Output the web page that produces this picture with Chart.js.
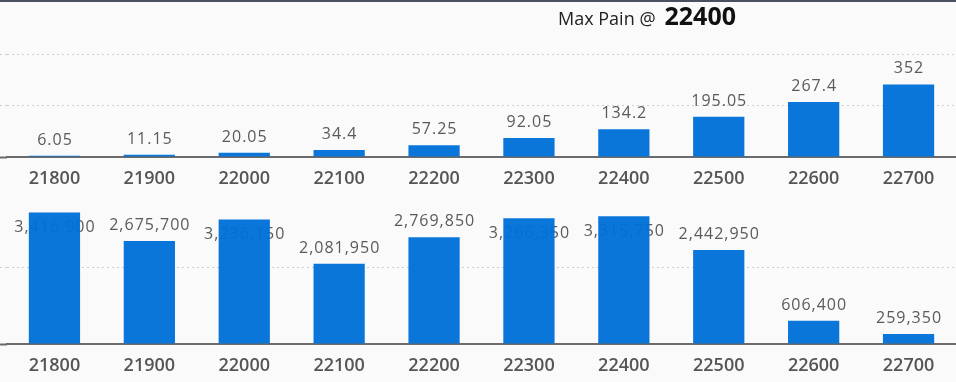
<!DOCTYPE html>
<html>
<head>
<meta charset="utf-8">
<script src="https://cdn.jsdelivr.net/npm/chart.js@4.4.1/dist/chart.umd.min.js"></script>
<style>
  html, body { margin: 0; padding: 0; background: #fafafa; }
  #wrap { position: relative; width: 956px; height: 382px; overflow: hidden; }
  #topLine { position: absolute; left: 0; top: 0; width: 956px; height: 2px; background: #48525f; z-index: 2; }
  #premium { position: absolute; left: 0; top: 0; }
  #pain { position: absolute; left: 0; top: 190px; }
</style>
</head>
<body>
<div id="wrap">
  <div id="topLine"></div>
  <canvas id="premium" width="956" height="190"></canvas>
  <canvas id="pain" width="956" height="192"></canvas>
</div>
<script>
const strikes = ['21800', '21900', '22000', '22100', '22200', '22300', '22400', '22500', '22600', '22700'];
const premiumValues = [6.05, 11.15, 20.05, 34.4, 57.25, 92.05, 134.2, 195.05, 267.4, 352];
const painValues = [3416900, 2675700, 3236150, 2081950, 2769850, 3266350, 3315750, 2442950, 606400, 259350];
const maxPainStrike = '22400';
const premiumTicks = [250, 500];
const painTicks = [2000000];

const barColor = 'rgba(0, 112, 217, 0.96)';
const gridColor = '#cfcfcf';
const axisColor = '#6b6b6b';

// value labels drawn before the bars so tall bars sit over them;
// labels that would not fit above the plot go just inside the bar top
function makeLabels(id, format) {
  return {
    id: id,
    beforeDatasetsDraw(chart) {
      const ctx = chart.ctx;
      const meta = chart.getDatasetMeta(0);
      const data = chart.data.datasets[0].data;
      const top = chart.chartArea.top;
      ctx.save();
      ctx.font = '16px "Open Sans"';
      ctx.fillStyle = '#5a5a5a';
      ctx.textAlign = 'center';
      ctx.textBaseline = 'alphabetic';
      ctx.letterSpacing = '1px';
      meta.data.forEach((bar, i) => {
        const y = (bar.y - 32 < top) ? bar.y + 20 : bar.y - 11;
        ctx.fillText(format(data[i]), bar.x + 0.5, y);
      });
      ctx.restore();
    }
  };
}

const titlePlugin = {
  id: 'maxPainTitle',
  afterDraw(chart) {
    const ctx = chart.ctx;
    ctx.save();
    ctx.textBaseline = 'alphabetic';
    ctx.textAlign = 'left';
    ctx.font = '18px "Open Sans"';
    ctx.fillStyle = '#222';
    const lead = 'Max Pain @';
    ctx.fillText(lead, 558, 25);
    const w = ctx.measureText(lead).width;
    ctx.font = 'bold 25px "Open Sans"';
    ctx.fillStyle = '#111';
    ctx.fillText(maxPainStrike, 558 + w + 9, 25);
    ctx.restore();
  }
};

function makeOptions(yMax, step, ticksShown, xHeight, padTop) {
  return {
    responsive: false,
    animation: false,
    layout: { padding: { top: padTop, left: 0, right: 0, bottom: 0 } },
    plugins: { legend: { display: false }, tooltip: { enabled: false } },
    scales: {
      x: {
        offset: true,
        grid: { display: false, drawTicks: false },
        border: { display: true, color: axisColor, width: 2 },
        ticks: {
          color: '#555',
          padding: 11,
          font: { family: '"Open Sans"', size: 18, weight: '600' }
        },
        afterFit: (s) => { s.height = xHeight; }
      },
      y: {
        min: 0,
        max: yMax,
        ticks: { display: false, stepSize: step },
        border: { display: false, dash: [2, 3] },
        grid: {
          drawTicks: true,
          tickLength: 7,
          color: (c) => ticksShown.includes(c.tick.value) ? gridColor : 'transparent',
          tickColor: (c) => c.tick.value === 0 ? axisColor : (ticksShown.includes(c.tick.value) ? gridColor : 'transparent'),
          tickWidth: (c) => c.tick.value === 0 ? 2 : 1,
          tickBorderDash: (c) => c.tick.value === 0 ? [] : [2, 3]
        },
        afterFit: (s) => { s.width = 7; }
      }
    }
  };
}

new Chart(document.getElementById('premium'), {
  type: 'bar',
  data: {
    labels: strikes,
    datasets: [{
      data: premiumValues,
      backgroundColor: barColor,
      categoryPercentage: 1,
      barPercentage: 0.54
    }]
  },
  options: makeOptions(750, 250, premiumTicks, 33, 2.5),
  plugins: [makeLabels('premiumLabels', (v) => String(v)), titlePlugin]
});

new Chart(document.getElementById('pain'), {
  type: 'bar',
  data: {
    labels: strikes,
    datasets: [{
      data: painValues,
      backgroundColor: barColor,
      categoryPercentage: 1,
      barPercentage: 0.54
    }]
  },
  options: makeOptions(4000000, 2000000, painTicks, 38, 0),
  plugins: [makeLabels('painLabels', (v) => v.toLocaleString('en-US'))]
});
</script>
</body>
</html>
